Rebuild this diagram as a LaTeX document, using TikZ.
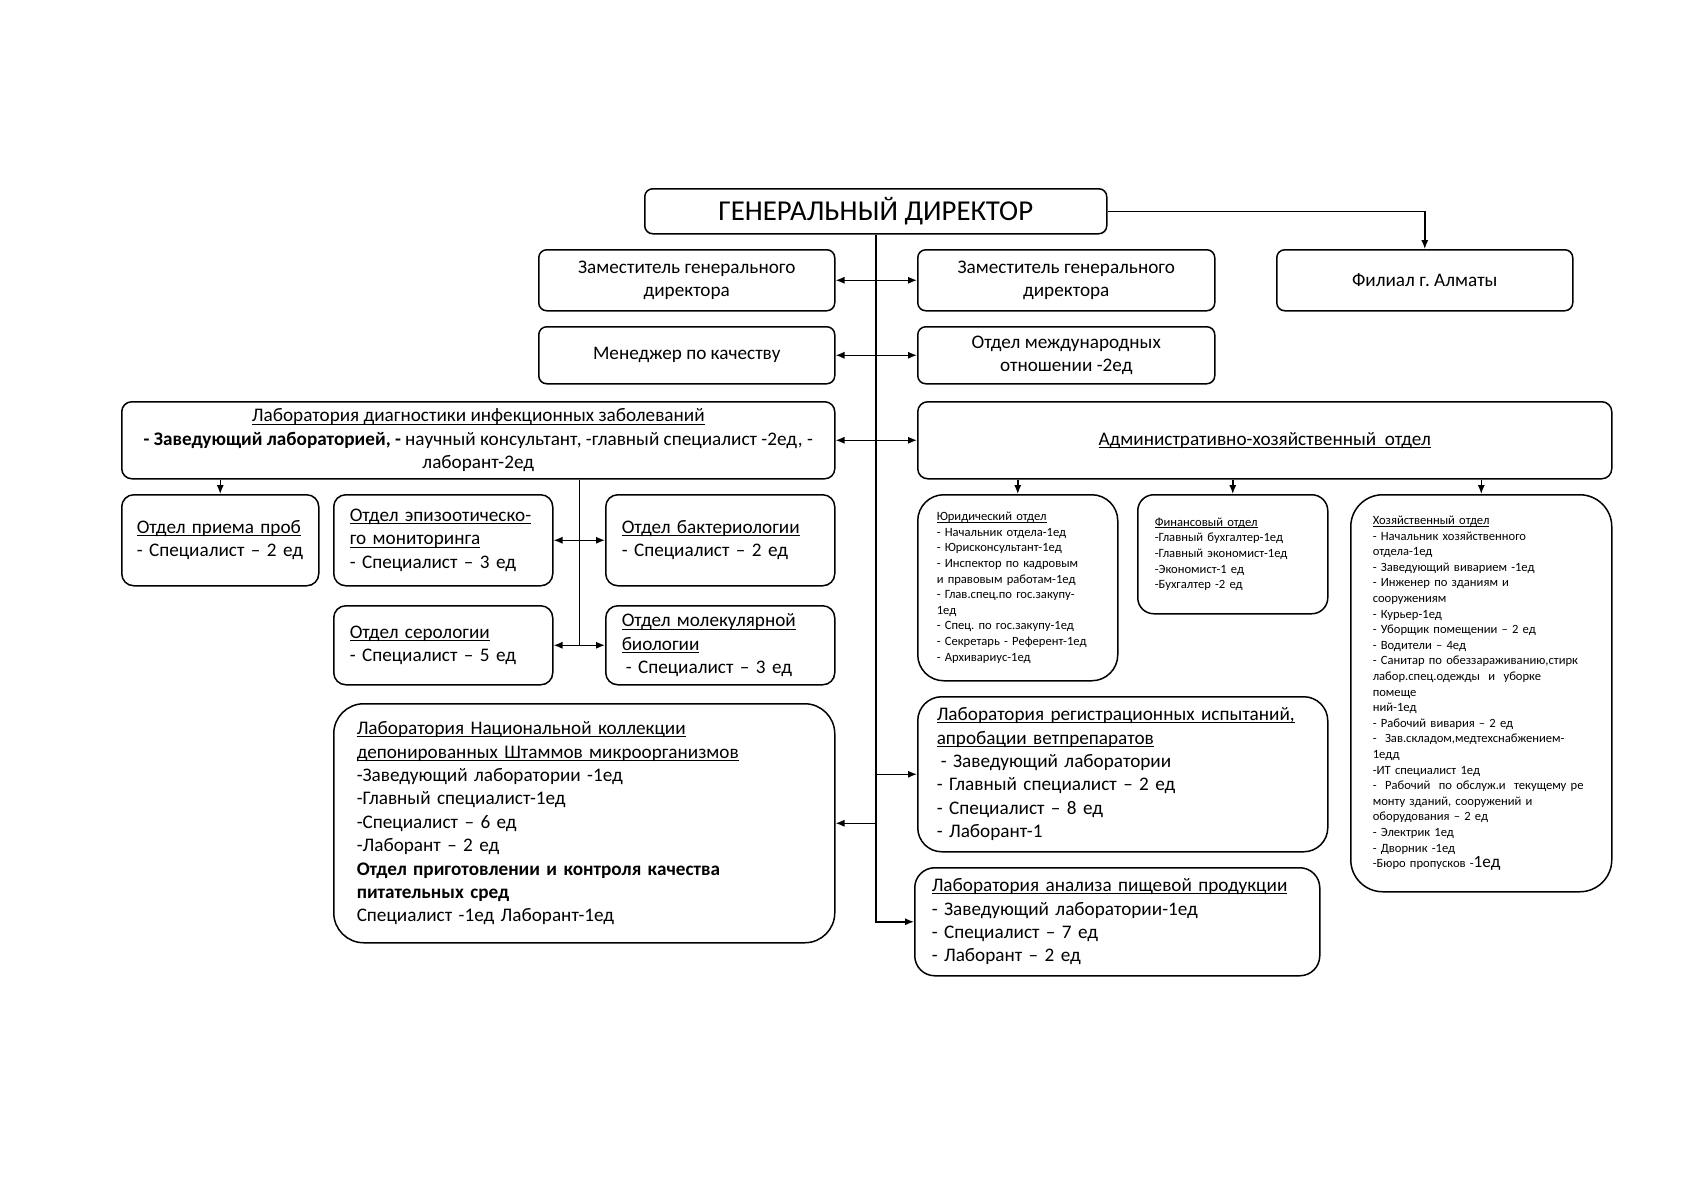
\documentclass[tikz,border=0pt]{standalone}
\usepackage{fontspec}
\setmainfont{Carlito}
\usepackage{tikz}
\usetikzlibrary{arrows.meta}

\newcommand{\titlefs}{\fontsize{14.4}{16}\selectfont}
\newcommand{\boxfs}{\fontsize{9.6}{11.7}\selectfont}
\newcommand{\tinyfs}{\fontsize{6.3}{7.8}\selectfont}
% underline close to the baseline
\newcommand{\uln}[1]{\leavevmode\setbox0\hbox{#1}\rlap{\rule[-0.14em]{\wd0}{0.05em}}\box0}
\frenchspacing

\begin{document}
\begin{tikzpicture}[x=0.5pt,y=-0.5pt,
	>={Latex[length=4.5pt,width=3.6pt]},
	every path/.style={line width=0.75pt},
	box/.style={draw,line width=0.75pt,rounded corners=4pt,anchor=north west,
		inner ysep=2pt,font=\boxfs},
	cbox/.style={box,align=center},
	lbox/.style={box,align=left,rounded corners=6pt}]

\useasboundingbox[fill=white] (0,0) rectangle (1684,1190);

% top level
\node[cbox,minimum width=231pt,minimum height=22.5pt,font=\titlefs] (gd) at (644,188) {ГЕНЕРАЛЬНЫЙ ДИРЕКТОР};
\node[cbox,minimum width=148pt,minimum height=30.5pt] (zamA) at (538,249) {Заместитель генерального\\директора};
\node[cbox,minimum width=148.5pt,minimum height=30.5pt] (zamB) at (917,249) {Заместитель генерального\\директора};
\node[cbox,minimum width=148pt,minimum height=30.5pt] (filial) at (1276,249) {Филиал г. Алматы};
\node[cbox,minimum width=148pt,minimum height=28.5pt] (qm) at (538,326) {Менеджер по качеству};
\node[cbox,minimum width=148.5pt,minimum height=28.5pt] (intl) at (917,326) {Отдел международных\\отношении -2ед};

\node[cbox,rounded corners=5pt,minimum width=356.5pt,minimum height=38.5pt] (labdiag) at (121,401)
	{\uln{Лаборатория диагностики инфекционных заболеваний}\\
	\textbf{- Заведующий лабораторией, -} научный консультант, -главный специалист -2ед, -\\
	лаборант-2ед};
\node[cbox,rounded corners=5pt,minimum width=347pt,minimum height=38.5pt] (aho) at (917,401)
	{\uln{Административно-хозяйственный\ \ отдел}};

% lab diag departments
\node[lbox,inner xsep=7.5pt,text width=83.5pt,minimum height=45.5pt] (priem) at (121,494)
	{\uln{Отдел приема проб}\\- Специалист – 2 ед};
\node[lbox,inner xsep=8pt,text width=93.5pt,minimum height=45.5pt] (epiz) at (333,494)
	{\uln{Отдел эпизоотическо-}\\\uln{го мониторинга}\\- Специалист – 3 ед};
\node[lbox,inner xsep=8pt,text width=98.5pt,minimum height=45.5pt] (bact) at (605,494)
	{\uln{Отдел бактериологии}\\- Специалист – 2 ед};
\node[lbox,inner xsep=8pt,text width=93.5pt,minimum height=39.5pt] (sero) at (333,605)
	{\uln{Отдел серологии}\\- Специалист – 5 ед};
\node[lbox,inner xsep=8pt,text width=98.5pt,minimum height=39.5pt] (molec) at (605,605)
	{\uln{Отдел молекулярной}\\\uln{биологии}\\\hspace*{2pt}- Специалист – 3 ед};

% lower labs
\node[lbox,rounded corners=15pt,inner xsep=11.5pt,text width=227.5pt,minimum height=119.5pt] (natlab) at (333,703)
	{\uln{Лаборатория Национальной коллекции}\\
	\uln{депонированных Штаммов микроорганизмов}\\
	-Заведующий лаборатории -1ед\\
	-Главный специалист-1ед\\
	-Специалист – 6 ед\\
	-Лаборант – 2 ед\\
	\textbf{Отдел приготовлении и контроля качества}\\
	\textbf{питательных сред}\\
	Специалист -1ед Лаборант-1ед};
\node[lbox,rounded corners=12pt,inner xsep=9.5pt,text width=186pt,minimum height=77.5pt] (reglab) at (917,696)
	{\uln{Лаборатория регистрационных испытаний,}\\
	\uln{апробации ветпрепаратов}\\
	\hspace*{2pt}- Заведующий лаборатории\\
	- Главный специалист – 2 ед\\
	- Специалист – 8 ед\\
	- Лаборант-1};
\node[lbox,rounded corners=10pt,inner xsep=8.5pt,text width=185.5pt,minimum height=54pt] (food) at (914,867)
	{\uln{Лаборатория анализа пищевой продукции}\\
	- Заведующий лаборатории-1ед\\
	- Специалист – 7 ед\\
	- Лаборант – 2 ед};

% AHO departments
\node[lbox,rounded corners=13pt,font=\tinyfs,inner xsep=9.5pt,text width=81pt,minimum height=93pt] (jur) at (917,494)
	{\uln{Юридический отдел}\\
	- Начальник отдела-1ед\\
	- Юрисконсультант-1ед\\
	- Инспектор по кадровым\\
	и правовым работам-1ед\\
	- Глав.спец.по гос.закупу-\\
	1ед\\
	- Спец. по гос.закупу-1ед\\
	- Секретарь - Референт-1ед\\
	- Архивариус-1ед};
\node[lbox,rounded corners=8pt,font=\tinyfs,inner xsep=8.5pt,text width=78pt,minimum height=59.5pt] (fin) at (1137,494)
	{\uln{Финансовый отдел}\\
	-Главный бухгалтер-1ед\\
	-Главный экономист-1ед\\
	-Экономист-1 ед\\
	-Бухгалтер -2 ед};
\node[lbox,rounded corners=16pt,font=\tinyfs,inner xsep=11pt,text width=108.5pt,minimum height=198.5pt] (khoz) at (1350,494)
	{\uln{Хозяйственный отдел}\\
	- Начальник хозяйственного\\
	отдела-1ед\\
	- Заведующий виварием -1ед\\
	- Инженер по зданиям и\\
	сооружениям\\
	- Курьер-1ед\\
	- Уборщик помещении – 2 ед\\
	- Водители – 4ед\\
	- Санитар по обеззараживанию,стирк\\
	лабор.спец.одежды\ \ и\ \ уборке\\
	помеще\\
	ний-1ед\\
	- Рабочий вивария – 2 ед\\
	-\ \ Зав.складом,медтехснабжением-\\
	1едд\\
	-ИТ специалист 1ед\\
	-\ \ Рабочий\ \ по обслуж.и\ \ текущему ре\\
	монту зданий, сооружений и\\
	оборудования – 2 ед\\
	- Электрик 1ед\\
	- Дворник -1ед\\
	-Бюро пропусков -{\fontsize{8.6}{9}\selectfont 1ед}};

% connectors
\draw[->] (gd.east) -| (filial.north);
\draw[->] (gd.south) |- (food.west);
\draw[<->] (zamA) -- (zamB);
\draw[<->] (qm) -- (intl);
\draw[<->] (labdiag) -- (aho);
\draw[->] (gd.south |- reglab.west) -- (reglab.west);
\draw[->] (gd.south |- natlab.east) -- (natlab.east);

\draw[->] (labdiag.south -| priem.north) -- (priem.north);
\path (epiz.east) -- (bact.west) coordinate[midway] (lt);
\draw (lt |- labdiag.south) -- (lt |- molec.west);
\draw[<->] (epiz) -- (bact);
\draw[<->] (sero) -- (molec);

\foreach \n in {jur,fin,khoz}
	\draw[->] (aho.south -| \n.north) -- (\n.north);

\end{tikzpicture}
\end{document}
